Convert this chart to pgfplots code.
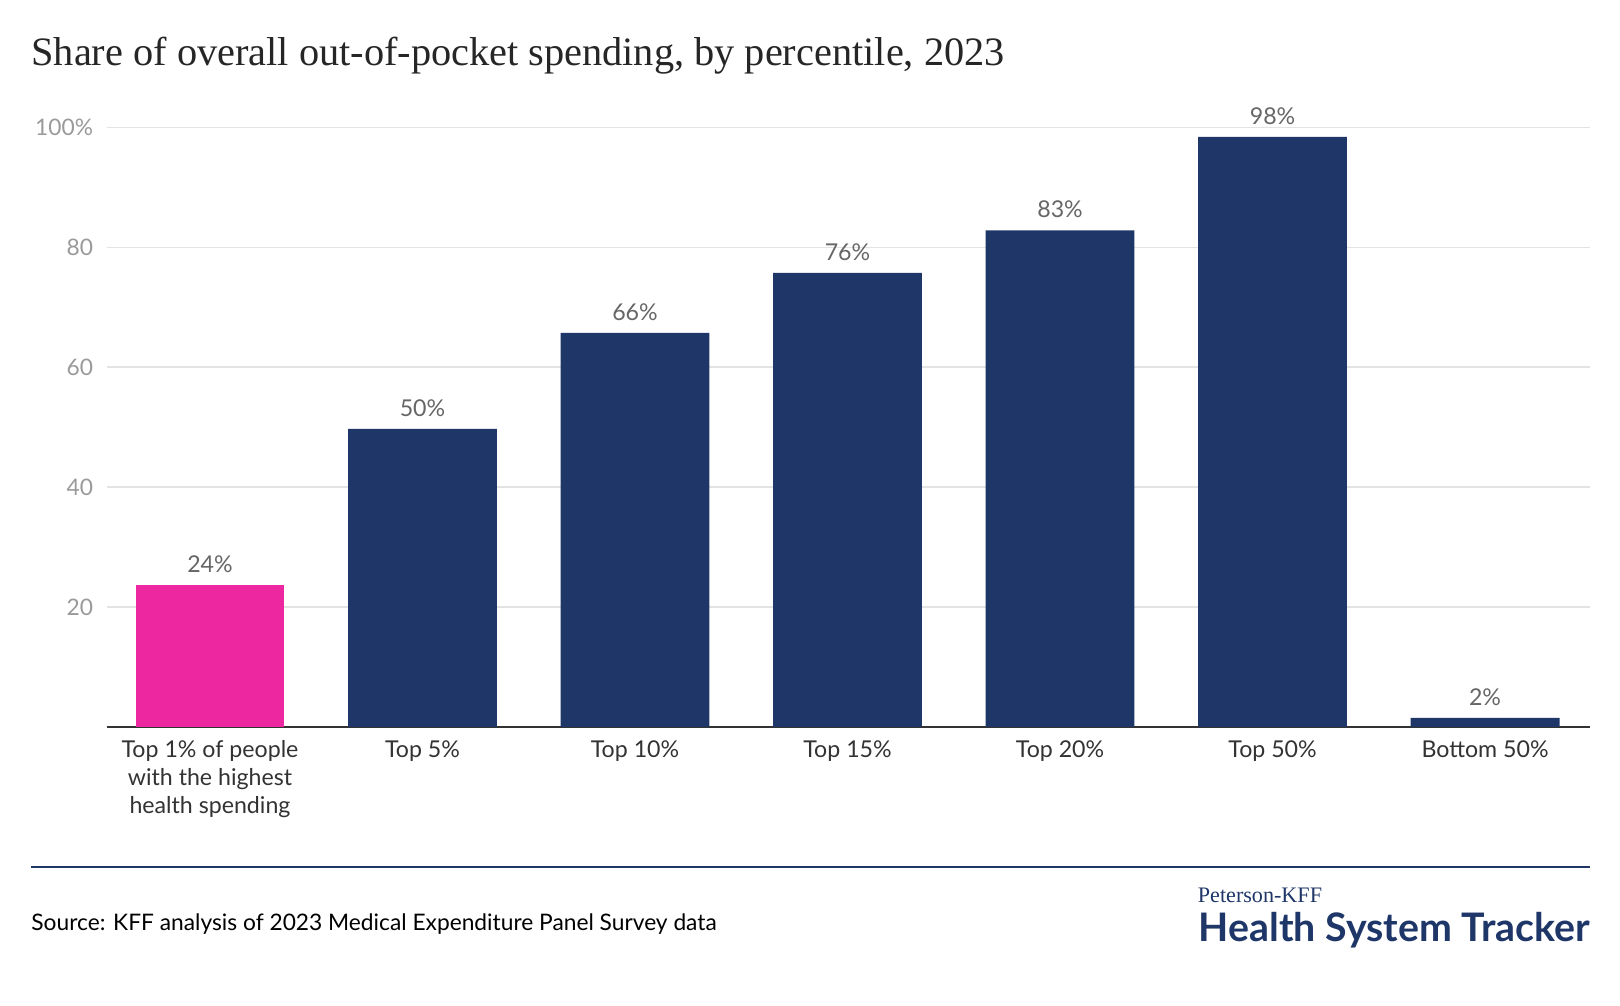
\documentclass[border=0pt]{standalone}
\usepackage{pgfplots}
\pgfplotsset{compat=1.18}
\usepackage{fontspec}
\setmainfont{Lato}
\newfontfamily\titlefont{Liberation Serif}
\definecolor{navy}{HTML}{1F3668}
\definecolor{pinkbar}{HTML}{EC27A0}
\definecolor{labgray}{HTML}{666666}
\definecolor{tickgray}{HTML}{9A9A9A}
\definecolor{gridgray}{HTML}{E3E3E3}
\begin{document}
\begin{tikzpicture}
  % page frame
  \useasboundingbox (0,0) rectangle (783.3pt,-486.4pt);
  \fill[white] (0,0) rectangle (783.3pt,-486.4pt);
  \node[anchor=base west, inner sep=0, font=\titlefont\fontsize{19.5}{23}\selectfont, text=black!85]
    at (15pt,-31.5pt) {Share of overall out-of-pocket spending, by percentile, 2023};

  \begin{axis}[
      at={(51.5pt,-351.5pt)}, anchor=south west,
      scale only axis, width=717.5pt, height=290pt,
      ymin=0, ymax=100, xmin=-0.487, xmax=6.496,
      clip=false,
      axis x line*=bottom,
      axis y line*=left,
      y axis line style={draw=none},
      x axis line style={draw=black!80, line width=1pt, -},
      major tick length=0pt,
      ytick={20,40,60,80,100},
      yticklabels={20,40,60,80,100\%},
      yticklabel style={font=\fontsize{11}{13}\selectfont, text=tickgray, xshift=-3pt},
      /pgf/number format/assume math mode=true,
      ymajorgrids, grid style={gridgray, line width=0.6pt},
      xtick={0,1,2,3,4,5,6},
      xticklabels={{Top 1\% of people\\with the highest\\health spending}, Top 5\%, Top 10\%, Top 15\%, Top 20\%, Top 50\%, Bottom 50\%},
      xticklabel style={font=\fontsize{11.2}{13.5}\selectfont, text=black!80, align=center, anchor=north, yshift=-3pt},
      ybar, bar width=72pt, bar shift=0pt,
      nodes near coords={\pgfmathprintnumber[fixed, precision=0]{\pgfplotspointmeta}\%},
      nodes near coords style={font=\fontsize{11.2}{13}\selectfont, text=labgray, yshift=2.5pt},
    ]
    \addplot[fill=pinkbar, draw=none] coordinates {(0,23.7)};
    \addplot[fill=navy, draw=none] coordinates {(1,49.7) (2,65.7) (3,75.7) (4,82.8) (5,98.4) (6,1.5)};
  \end{axis}

  \draw[navy, line width=1pt] (15pt,-419pt) -- (769pt,-419pt);
  \node[anchor=base west, inner sep=0, font=\fontsize{11}{13}\selectfont, text=black]
    at (15pt,-450pt) {Source: KFF analysis of 2023 Medical Expenditure Panel Survey data};
  \node[anchor=base west, inner sep=0, font=\titlefont\fontsize{10.7}{12}\selectfont, text=navy]
    at (579pt,-436.5pt) {Peterson-KFF};
  \node[anchor=base east, inner sep=0, font=\bfseries\fontsize{19}{22}\selectfont, text=navy]
    at (769pt,-455pt) {Health System Tracker};
\end{tikzpicture}
\end{document}
